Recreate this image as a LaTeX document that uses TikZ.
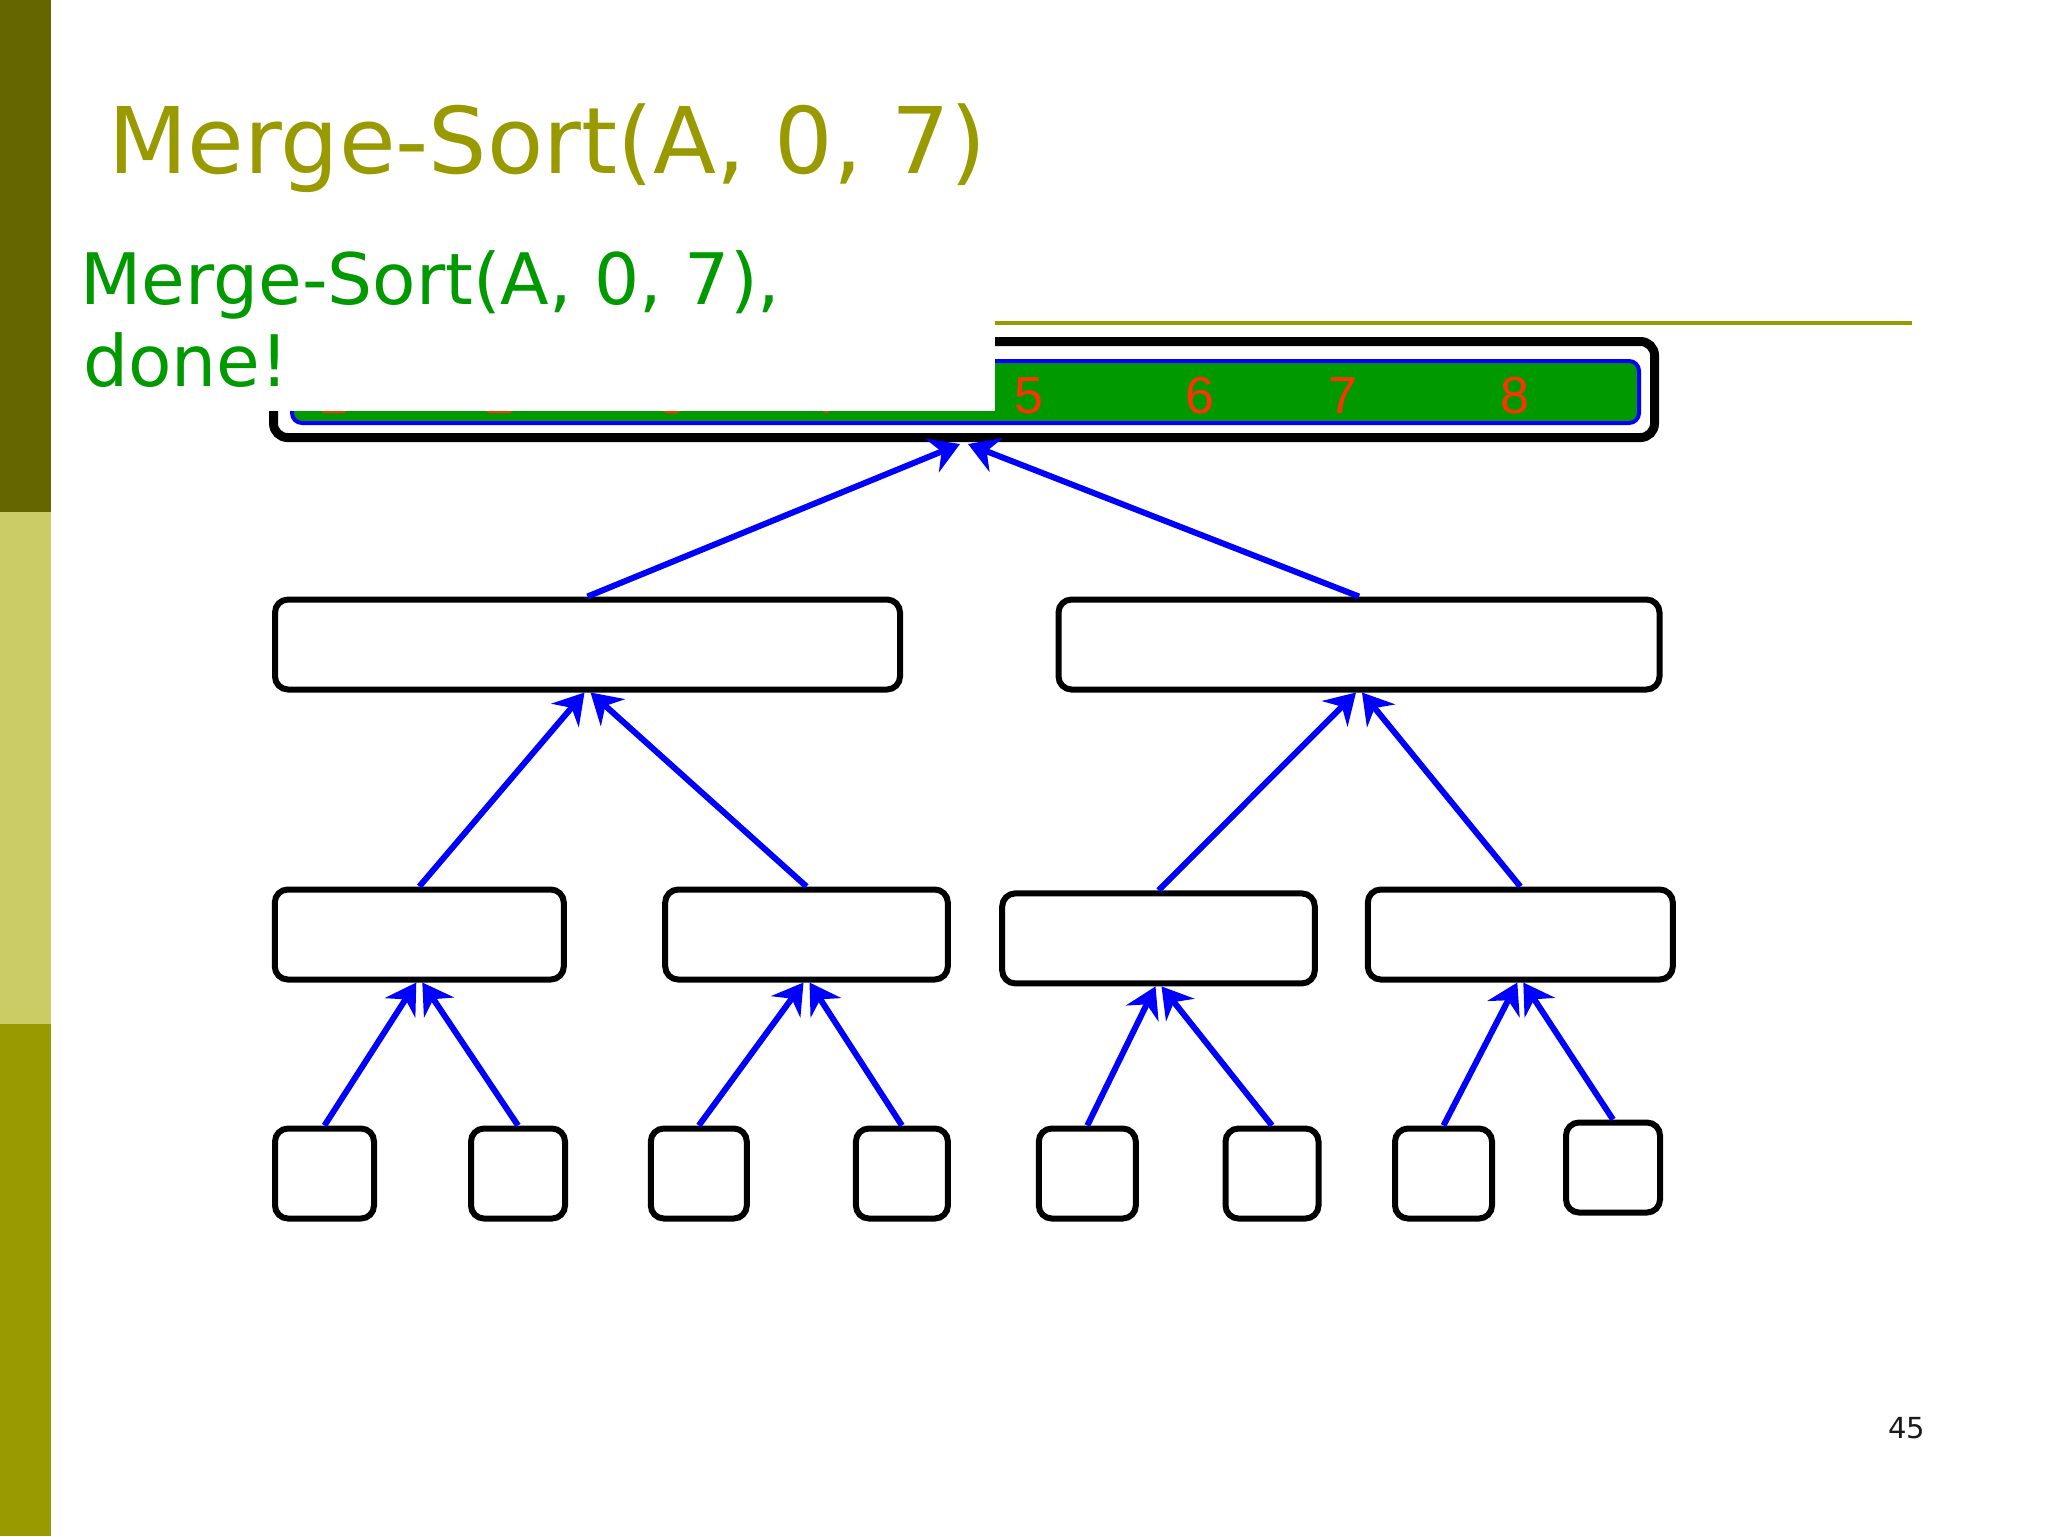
\documentclass[tikz,border=0pt]{standalone}
\usepackage{fontspec}
\setmainfont{DejaVu Sans}
\newfontfamily\digitfont{Liberation Sans}
\usetikzlibrary{arrows.meta,calc}
\definecolor{olivedark}{HTML}{666600}
\definecolor{olivelight}{HTML}{CCCC66}
\definecolor{olivemid}{HTML}{999900}
\definecolor{textgreen}{HTML}{009900}
\definecolor{bargreen}{HTML}{009900}
\definecolor{digitred}{HTML}{FF3300}
\definecolor{arrowblue}{HTML}{0000FF}
\definecolor{pagegray}{HTML}{1A1A1A}
\begin{document}
\begin{tikzpicture}[x=0.5pt,y=-0.5pt,
  box/.style={draw=black, line width=3pt, rounded corners=6.5pt, minimum height=45pt, inner sep=0pt},
  arr/.style={draw=arrowblue, line width=3pt, -{Stealth[length=15pt,width=18pt,inset=5pt]}},
  digit/.style={text=digitred, font=\digitfont\fontsize{26pt}{30pt}\selectfont, anchor=base, inner sep=0pt},
  gtext/.style={text=textgreen, font=\fontsize{35.5pt}{41pt}\selectfont, anchor=base west, inner sep=0pt},
]
\useasboundingbox (0,0) rectangle (2048,1536);
\fill[white] (0,0) rectangle (2048,1536);
% left bar
\fill[olivedark] (0,0) rectangle (51,512);
\fill[olivelight] (0,512) rectangle (51,1024);
\fill[olivemid] (0,1024) rectangle (51,1536);
% title
\node[anchor=base west, inner sep=0pt, text=olivemid, font=\fontsize{46pt}{54pt}\selectfont] (title) at (108,173) {Merge-Sort(A, 0, 7)};
% underline
\draw[olivemid, line width=2pt] (995,323) -- (1912,323);
% top array
\node[draw=black, line width=4.5pt, rounded corners=7pt, minimum width=690.5pt, minimum height=48pt, inner sep=0pt] (top) at (964,389.5) {};
\node[draw=arrowblue, fill=bargreen, line width=2pt, rounded corners=5pt, minimum width=673.5pt, minimum height=31pt, inner sep=0pt] (bar) at (965.5,392) {};
\node[digit] (d1) at (334,413) {1};
\node[digit] (d2) at (500,413) {2};
\node[digit] (d3) at (672,413) {3};
\node[digit] (d4) at (821,413) {4};
\node[digit] (d5) at (1029,413) {5};
\node[digit] (d6) at (1200,413) {6};
\node[digit] (d7) at (1343,413) {7};
\node[digit] (d8) at (1515,413) {8};
% white text box
\fill[white] (70,232) rectangle (995,411);
\node[gtext] (g1) at (80,304) {Merge-Sort(A, 0, 7),};
\node[gtext] (g2) at (83,386) {done!};
% level 2
\node[box, minimum width=312.5pt] (L2a) at (587.5,644.5) {};
\node[box, minimum width=300.5pt] (L2b) at (1359,644.5) {};
% level 3
\node[box, minimum width=144.5pt] (L3a) at (419.3,934.5) {};
\node[box, minimum width=141.3pt] (L3b) at (806.5,934.5) {};
\node[box, minimum width=156.3pt] (L3c) at (1158.5,938.4) {};
\node[box, minimum width=152.5pt] (L3d) at (1520.3,934.5) {};
% level 4
\node[box, minimum width=49.5pt] (b1) at (324.5,1173.5) {};
\node[box, minimum width=47pt] (b2) at (518,1173.5) {};
\node[box, minimum width=48pt] (b3) at (698.8,1173.5) {};
\node[box, minimum width=46pt] (b4) at (901.9,1173.5) {};
\node[box, minimum width=48.5pt] (b5) at (1087.3,1173.5) {};
\node[box, minimum width=46.5pt] (b6) at (1272,1173.5) {};
\node[box, minimum width=48.5pt] (b7) at (1443.5,1173.5) {};
\node[box, minimum width=47pt] (b8) at (1613,1167.5) {};
% arrows
\draw[arr] (L2a.north) -- ($(top.south)+(-4,2)$);
\draw[arr] (L2b.north) -- ($(top.south)+(4,2)$);
\draw[arr] (L3a.north) -- ($(L2a.south)+(-3,0)$);
\draw[arr] (L3b.north) -- ($(L2a.south)+(3,0)$);
\draw[arr] (L3c.north) -- ($(L2b.south)+(-3,0)$);
\draw[arr] (L3d.north) -- ($(L2b.south)+(3,0)$);
\draw[arr] (b1.north) -- ($(L3a.south)+(-3,0)$);
\draw[arr] (b2.north) -- ($(L3a.south)+(3,0)$);
\draw[arr] (b3.north) -- ($(L3b.south)+(-3,0)$);
\draw[arr] (b4.north) -- ($(L3b.south)+(3,0)$);
\draw[arr] (b5.north) -- ($(L3c.south)+(-3,0)$);
\draw[arr] (b6.north) -- ($(L3c.south)+(3,0)$);
\draw[arr] (b7.north) -- ($(L3d.south)+(-3,0)$);
\draw[arr] (b8.north) -- ($(L3d.south)+(3,0)$);
% page number
\node[anchor=base west, inner sep=0pt, text=pagegray, font=\fontsize{14.5pt}{17pt}\selectfont] (pnum) at (1888,1438) {45};
\end{tikzpicture}
\end{document}
